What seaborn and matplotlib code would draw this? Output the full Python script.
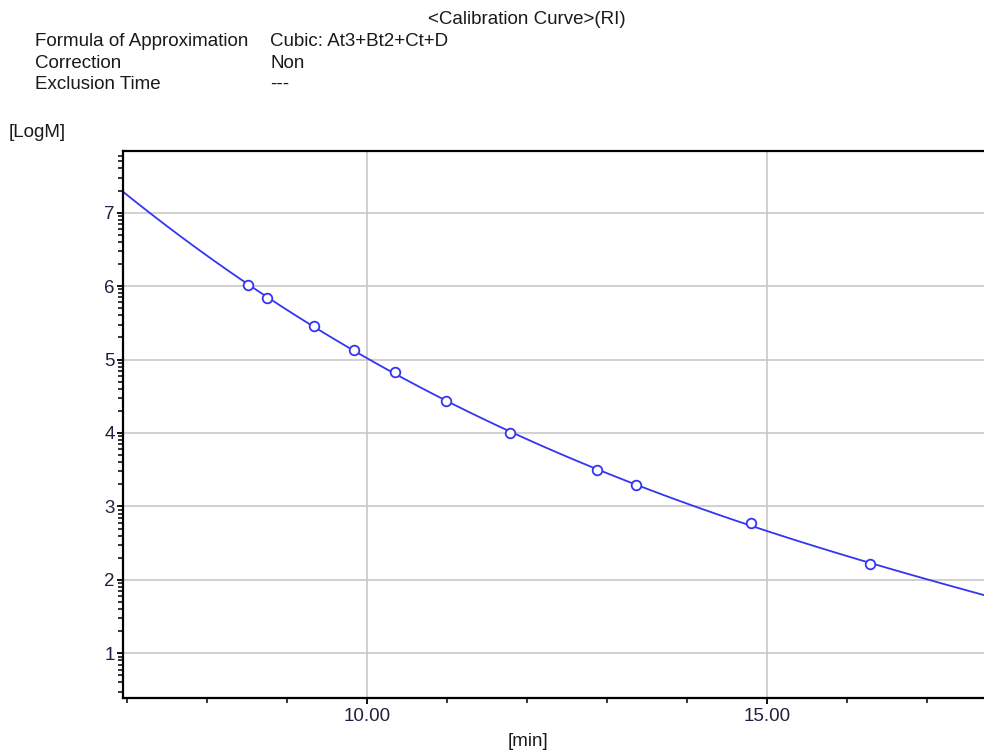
import numpy as np
import pandas as pd
import matplotlib
matplotlib.use("Agg")
import matplotlib.pyplot as plt
from matplotlib.ticker import MultipleLocator, FixedLocator, FuncFormatter
import seaborn as sns

# Calibration standards
retention_min = [8.51, 8.75, 9.33, 9.84, 10.35, 10.99, 11.79, 12.87, 13.36, 14.80, 16.28]
log_m = [6.02, 5.84, 5.45, 5.13, 4.83, 4.43, 4.00, 3.49, 3.29, 2.77, 2.22]

header_title = "<Calibration Curve>(RI)"
header_keys = ["Formula of Approximation", "Correction", "Exclusion Time"]
header_vals = ["Cubic: At3+Bt2+Ct+D", "Non", "---"]

df = pd.DataFrame({"t": retention_min, "logM": log_m})

sns.set_theme(style="white")
plt.rcParams["font.family"] = ["Liberation Sans", "DejaVu Sans"]

W, H = 984, 754
fig = plt.figure(figsize=(W / 100, H / 100), dpi=100)
ax = fig.add_axes([123.3 / W, 1 - 697.7 / H, 1 - 123.3 / W, (697.7 - 150.7) / H])

xlim = (6.95, 17.71)
ylim = (0.395, 7.844)
ax.set_xlim(*xlim)
ax.set_ylim(*ylim)

blue = "#3434f4"
sns.regplot(data=df, x="t", y="logM", order=3, ci=None, truncate=False,
            scatter=False, ax=ax, line_kws=dict(color=blue, lw=1.3))
sns.scatterplot(data=df, x="t", y="logM", ax=ax, marker="o", s=48,
                facecolor="white", edgecolor=blue, linewidth=1.3, zorder=5)

ax.set_xlim(*xlim)
ax.set_ylim(*ylim)
ax.set_xlabel("")
ax.set_ylabel("")

ax.xaxis.set_major_locator(MultipleLocator(5))
ax.xaxis.set_minor_locator(MultipleLocator(1))
ax.xaxis.set_major_formatter(FuncFormatter(lambda v, p: f"{v:.2f}"))
ax.yaxis.set_major_locator(MultipleLocator(1))
minor_y = [n + np.log10(k) for n in range(0, 8) for k in range(2, 10)]
ax.yaxis.set_minor_locator(FixedLocator(minor_y))
ax.yaxis.set_major_formatter(FuncFormatter(lambda v, p: f"{int(round(v))}"))

ax.grid(True, which="major", color="#c8c8c8", lw=1.2)
ax.set_axisbelow(True)
for s in ["left", "bottom", "top"]:
    ax.spines[s].set_color("black")
    ax.spines[s].set_linewidth(1.6)
ax.spines["right"].set_visible(False)

ax.tick_params(axis="both", which="major", direction="out", length=4.5, width=1.3,
               color="black", labelsize=13.5, labelcolor="#202040")
ax.tick_params(axis="both", which="minor", direction="out", length=3.3, width=1.1,
               color="black")
ax.tick_params(axis="x", which="major", pad=3, bottom=True)
ax.tick_params(axis="x", which="minor", bottom=True)
ax.tick_params(axis="y", which="major", pad=1.5, left=True)
ax.tick_params(axis="y", which="minor", left=True)

fs = 13.5
def ftext(x, y, s, **kw):
    fig.text(x / W, 1 - y / H, s, fontsize=fs, color="#1a1a1a", **kw)

ftext(428, 24, header_title, ha="left", va="baseline")
rows_y = [46, 68, 89]
for yy, k, v in zip(rows_y, header_keys, header_vals):
    ftext(35, yy, k, ha="left", va="baseline")
    ftext(270, yy, v, ha="left", va="baseline")
ftext(9, 137, "[LogM]", ha="left", va="baseline")
ftext(528, 742, "[min]", ha="center", va="center")

fig.savefig("out.png", dpi=100)
